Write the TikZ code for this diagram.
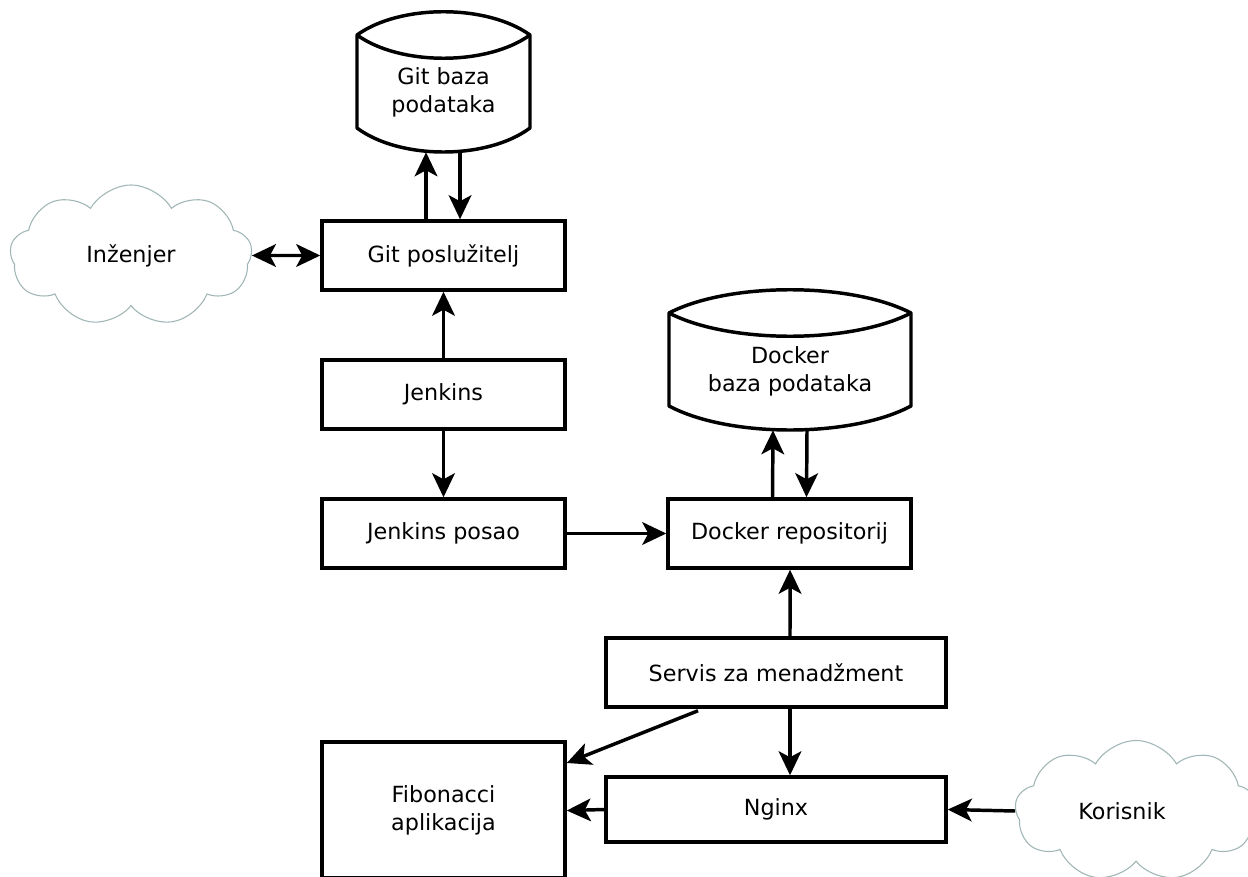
\documentclass[tikz,border=0pt]{standalone}
\usepackage{fontspec}
\setmainfont{DejaVu Sans}
\usetikzlibrary{shapes.symbols,arrows.meta}
\definecolor{cloudc}{RGB}{160,182,182}
\tikzset{
  box/.style={draw, line width=2.6pt, minimum width=182.25pt, minimum height=51.75pt,
    inner sep=0pt, align=center, font=\fontsize{16.7pt}{21pt}\selectfont},
  widebox/.style={box, minimum width=255pt},
  txt/.style={inner sep=0pt, align=center, font=\fontsize{16.7pt}{21pt}\selectfont},
  holder/.style={inner sep=0pt, minimum width=#1},
  cyl/.style={line width=2.6pt, line join=round},
  cloudnode/.style={cloud, cloud puffs=9, cloud puff arc=120, aspect=1.7, draw=cloudc,
    line width=0.8pt, minimum width=181.5pt, minimum height=105.75pt, inner sep=0pt,
    font=\fontsize{16.7pt}{21pt}\selectfont},
  arr/.style={line width=2.6pt, -{Stealth[length=18pt,width=17pt,inset=4.5pt]}},
  darr/.style={line width=2.6pt, {Stealth[length=18pt,width=17pt,inset=4.5pt]}-{Stealth[length=18pt,width=17pt,inset=4.5pt]}}
}
\begin{document}
\begin{tikzpicture}[x=0.75pt,y=-0.75pt]
\path[use as bounding box, clip] (0,0) rectangle (1248,877);
\fill[white] (0,0) rectangle (1248,877);

% Git database cylinder
\draw[cyl] (357,35) .. controls (400,4) and (487,4) .. (530,35)
  -- (530,128) .. controls (487,160) and (400,160) .. (357,128) -- cycle;
\draw[cyl] (357,35) .. controls (400,66) and (487,66) .. (530,35);
\node[holder=129.75pt, minimum height=105pt] (gitdb) at (443.5,82) {};
\node[txt] (gitdbt) at (443.5,92) {Git baza\\podataka};

% Docker database cylinder
\draw[cyl] (669,313) .. controls (729,282) and (851,282) .. (911,313)
  -- (911,406) .. controls (851,438) and (729,438) .. (669,406) -- cycle;
\draw[cyl] (669,313) .. controls (729,344) and (851,344) .. (911,313);
\node[holder=181.5pt, minimum height=105pt] (dockdb) at (790,360) {};
\node[txt] (dockdbt) at (790,371) {Docker\\baza podataka};

% boxes
\node[box] (gits) at (443.5,255.5) {Git poslužitelj};
\node[box] (jen) at (443.5,394.5) {Jenkins};
\node[box] (jenp) at (443.5,533.5) {Jenkins posao};
\node[box] (dockr) at (789.5,533.5) {Docker repositorij};
\node[widebox] (serv) at (776,672.5) {Servis za menadžment};
\node[widebox, minimum height=48.75pt] (ngx) at (776,809.5) {Nginx};
\node[box, minimum height=102pt] (fib) at (443.5,810) {Fibonacci\\aplikacija};

% clouds
\node[cloudnode] (inz) at (131,255.5) {Inženjer};
\node[cloudnode] (kor) at (1136,811) {};
\node[txt] (kort) at (1122,811) {Korisnik};

% connectors
\draw[arr] ([xshift=-13.1pt]gits.north) -- ([xshift=-13.1pt]gitdb.south);
\draw[arr] ([xshift=12.4pt]gitdb.south) -- ([xshift=12.4pt]gits.north);
\draw[darr] (inz.east) -- (gits.west);
\draw[arr] (jen.north) -- (gits.south);
\draw[arr] (jen.south) -- (jenp.north);
\draw[arr] (jenp.east) -- (dockr.west);
\draw[arr] ([xshift=-12.75pt]dockr.north) -- ([xshift=-12.75pt]dockdb.south);
\draw[arr] ([xshift=12.75pt]dockdb.south) -- ([xshift=12.75pt]dockr.north);
\draw[arr] ([xshift=10.5pt]serv.north) -- ([xshift=0.4pt]dockr.south);
\draw[arr] ([xshift=10.5pt]serv.south) -- ([xshift=10.5pt]ngx.north);
\draw[arr] ([xshift=-58.5pt,yshift=-1.5pt]serv.south) -- ([yshift=35.25pt]fib.east);
\draw[arr] (ngx.west) -- ([yshift=-0.4pt]fib.east);
\draw[arr] (kor.west) -- (ngx.east);
\end{tikzpicture}
\end{document}
